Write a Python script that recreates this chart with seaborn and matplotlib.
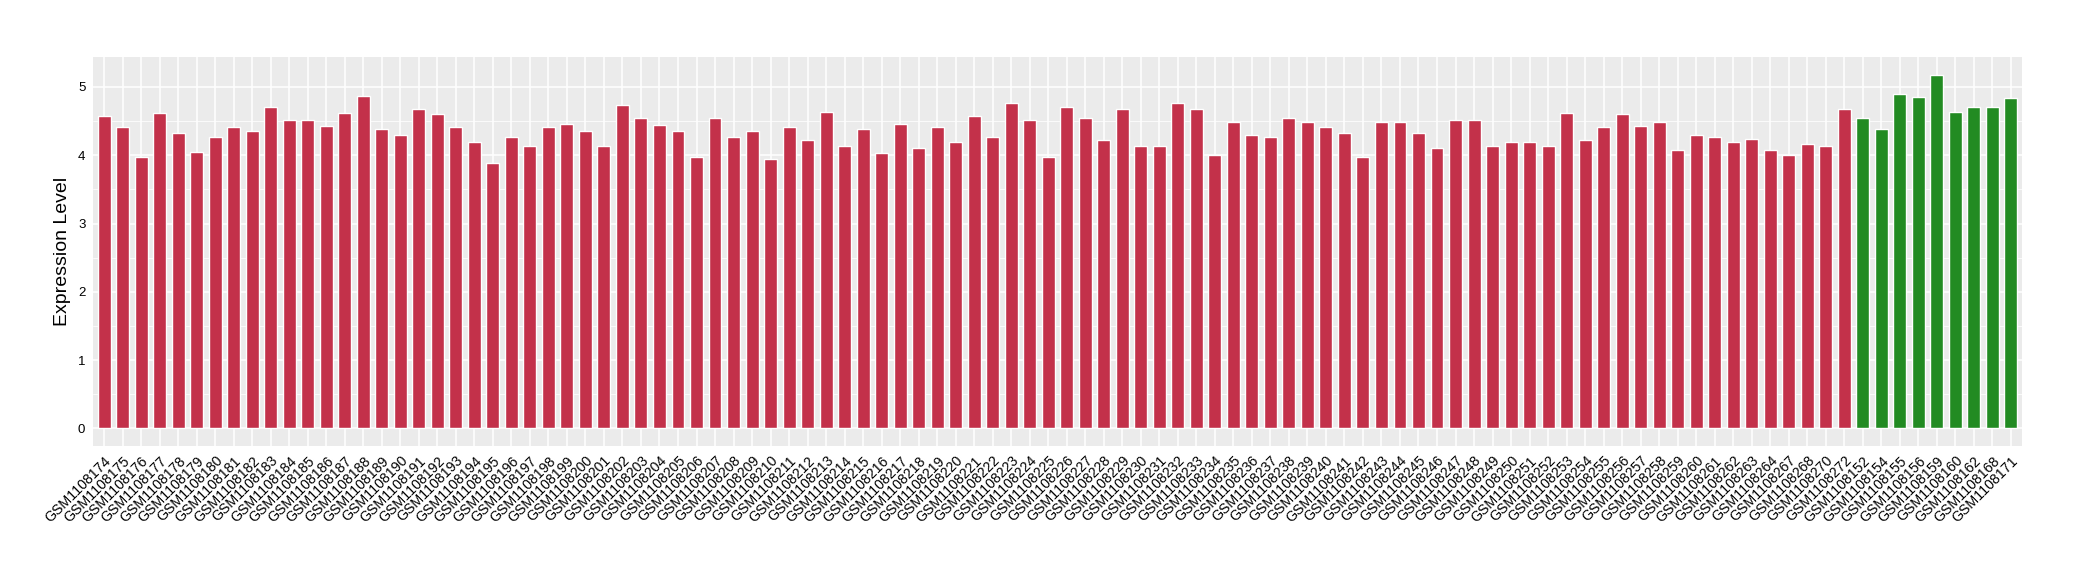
import matplotlib
matplotlib.use("Agg")
import matplotlib.pyplot as plt
import seaborn as sns
import pandas as pd
import numpy as np
from matplotlib.ticker import MultipleLocator

# ---- data ----
red_ids = list(range(174, 265)) + [267, 268, 270, 272]
green_ids = [152, 154, 155, 156, 159, 160, 162, 168, 171]

red_values = [
    4.58, 4.41, 3.98, 4.62, 4.33, 4.05, 4.26, 4.41, 4.35, 4.71,
    4.52, 4.51, 4.43, 4.62, 4.87, 4.39, 4.30, 4.67, 4.61, 4.41,
    4.19, 3.89, 4.26, 4.14, 4.41, 4.46, 4.35, 4.14, 4.73, 4.54,
    4.45, 4.36, 3.98, 4.55, 4.27, 4.35, 3.95, 4.42, 4.23, 4.64,
    4.13, 4.38, 4.03, 4.46, 4.10, 4.41, 4.19, 4.57, 4.26, 4.77,
    4.52, 3.97, 4.71, 4.54, 4.22, 4.68, 4.13, 4.14, 4.76, 4.67,
    4.00, 4.48, 4.30, 4.26, 4.55, 4.49, 4.41, 4.32, 3.98, 4.48,
    4.48, 4.32, 4.10, 4.51, 4.51, 4.14, 4.20, 4.20, 4.13, 4.62,
    4.22, 4.41, 4.61, 4.43, 4.49, 4.07, 4.30, 4.27, 4.19, 4.24,
    4.07, 4.00, 4.17, 4.13, 4.68,
]
green_values = [4.54, 4.39, 4.89, 4.86, 5.18, 4.64, 4.70, 4.71, 4.84]

samples = [f"GSM1108{i}" for i in red_ids] + [f"GSM1108{i}" for i in green_ids]
values = red_values + green_values
groups = ["A"] * len(red_values) + ["B"] * len(green_values)
colors = {"A": "#C3314A", "B": "#228B22"}

df = pd.DataFrame({"sample": samples, "value": values, "group": groups})

# ---- style ----
sns.set_theme(style="darkgrid")
plt.rcParams["font.family"] = ["Liberation Sans", "DejaVu Sans"]
plt.rcParams.update({
    "axes.facecolor": "#EBEBEB",
    "grid.color": "white",
    "axes.edgecolor": "none",
})

fig = plt.figure(figsize=(20.8, 5.8), dpi=100)
ax = fig.add_axes([93 / 2080, 1 - 446 / 580, (2022 - 93) / 2080, (446 - 57) / 580])

sns.barplot(data=df, x="sample", y="value", hue="group", palette=colors,
            dodge=False, width=0.7, legend=False, ax=ax, saturation=1,
            order=samples)

n = len(samples)
ax.set_xlim(-0.6, n - 1 + 0.6)
ymax = max(values)
ax.set_ylim(-0.05 * ymax, ymax * 1.05)
ax.yaxis.set_major_locator(MultipleLocator(1))
ax.yaxis.set_minor_locator(MultipleLocator(0.5))
ax.grid(True, which="major", color="white", linewidth=1.1)
ax.grid(True, which="minor", axis="y", color="white", linewidth=0.55)
ax.set_axisbelow(True)
for s in ax.spines.values():
    s.set_visible(False)

ax.tick_params(axis="both", which="major", length=3.5, width=0.8, color="#333333",
               labelsize=9.5, labelcolor="black", pad=2)
ax.tick_params(axis="y", which="minor", length=0)
ax.set_xticks(range(n))
ax.set_xticklabels(samples, rotation=45, ha="right", va="top",
                   rotation_mode="anchor", fontsize=10.2)
ax.set_xlabel("")
ax.set_ylabel("Expression Level", fontsize=14, color="black", labelpad=5)

fig.savefig("out.png", dpi=100)
